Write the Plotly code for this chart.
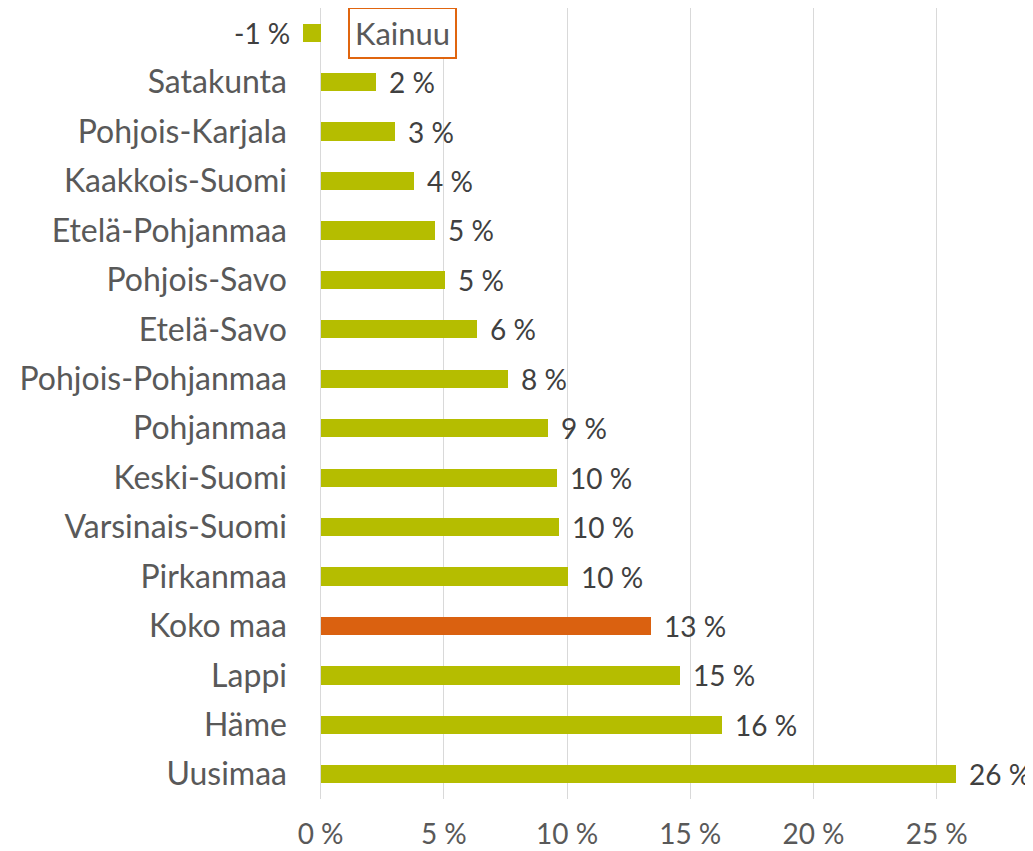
import plotly.graph_objects as go

regions = ["Kainuu", "Satakunta", "Pohjois-Karjala", "Kaakkois-Suomi", "Etelä-Pohjanmaa",
           "Pohjois-Savo", "Etelä-Savo", "Pohjois-Pohjanmaa", "Pohjanmaa", "Keski-Suomi",
           "Varsinais-Suomi", "Pirkanmaa", "Koko maa", "Lappi", "Häme", "Uusimaa"]
values = [-0.73, 2.24, 3.0, 3.78, 4.63, 5.04, 6.34, 7.6, 9.23, 9.59, 9.67, 10.04, 13.41, 14.6, 16.3, 25.77]
label_texts = ["-1 %", "2 %", "3 %", "4 %", "5 %", "5 %", "6 %", "8 %", "9 %", "10 %",
               "10 %", "10 %", "13 %", "15 %", "16 %", "26 %"]
tick_vals_x = [0, 5, 10, 15, 20, 25]
tick_text_x = ["0 %", "5 %", "10 %", "15 %", "20 %", "25 %"]

GREEN = "#B5BD00"
ORANGE = "#DA6110"
colors = [ORANGE if r == "Koko maa" else GREEN for r in regions]
ytext = ["" if r == "Kainuu" else r for r in regions]
ypos = list(range(len(regions)))

FONT = "Lato"

fig = go.Figure()
fig.add_trace(go.Bar(
    x=values, y=ypos, orientation="h",
    marker=dict(color=colors, line=dict(width=0)),
    width=0.37,
    hoverinfo="skip",
))

for v, yy, t in zip(values, ypos, label_texts):
    neg = v < 0
    fig.add_annotation(
        x=v, y=yy, xref="x", yref="y", text=t, showarrow=False,
        xanchor="right" if neg else "left", xshift=-11 if neg else 11,
        font=dict(family=FONT, size=28, color="#404040"),
    )

fig.add_annotation(
    x=3.33, y=0, xref="x", yref="y", text="Kainuu", showarrow=False,
    font=dict(family=FONT, size=31, color="#595959"),
    bordercolor="#E0650F", borderwidth=2, borderpad=5, bgcolor="white",
)

fig.update_layout(
    width=1025, height=843,
    margin=dict(l=283, r=47, t=0, b=52, autoexpand=False),
    plot_bgcolor="white", paper_bgcolor="white",
    showlegend=False,
    bargap=0,
    font=dict(family=FONT),
    xaxis=dict(
        range=[-1.2, 27], tickvals=tick_vals_x, ticktext=tick_text_x,
        showgrid=True, gridcolor="#D9D9D9", gridwidth=1,
        zeroline=False, showline=False, ticks="",
        tickfont=dict(family=FONT, size=28, color="#595959"),
        ticklabelstandoff=16, automargin=False,
    ),
    yaxis=dict(
        range=[15.5, -0.5], tickvals=ypos, ticktext=ytext,
        showgrid=False, zeroline=False, showline=False, ticks="",
        tickfont=dict(family=FONT, size=32, color="#595959"),
        ticklabelstandoff=3, automargin=False,
    ),
)

fig.write_html("out.html")
